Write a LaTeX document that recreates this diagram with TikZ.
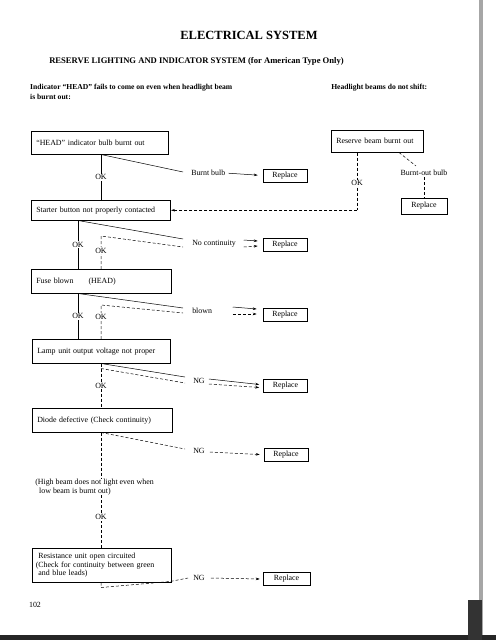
\documentclass[tikz,border=0pt]{standalone}
\usepackage{fontspec}
\setmainfont{Liberation Serif}
\usetikzlibrary{arrows.meta,positioning,calc}
\tikzset{
  fault/.style={draw, line width=0.5pt, anchor=north west, inner xsep=5pt, inner ysep=0pt,
    text width=#1, align=left, font=\fontsize{7.9}{8.4}\selectfont},
  fixbox/.style={draw, line width=0.5pt, minimum width=44pt, minimum height=13pt, inner sep=0pt,
    font=\fontsize{7.9}{9}\selectfont},
  tag/.style={fill=white, inner sep=0.8pt, font=\fontsize{7.9}{9}\selectfont},
  cue/.style={inner sep=0pt, anchor=west, font=\fontsize{7.9}{9}\selectfont},
  dashln/.style={dash pattern=on 3pt off 2pt},
  tip/.style={-{Stealth[length=4pt,width=2.6pt]}}
}
\begin{document}
\begin{tikzpicture}[x=1pt, y=-1pt, line width=0.5pt]
\useasboundingbox (0,0) rectangle (496,640);
% scan edges
\fill[gray!70] (479,0) rectangle (482.5,640);
\fill[black!85] (0,635) rectangle (496,640);
\fill[black!80] (468,600) rectangle (482,640);

% ---------- headings ----------
\node (title) at (249,35) {\fontsize{12.5}{14}\selectfont\bfseries ELECTRICAL SYSTEM};
\node[anchor=west, inner sep=0pt, font=\fontsize{8.6}{10}\selectfont\bfseries] (sub) at (49,61)
  {RESERVE LIGHTING AND INDICATOR SYSTEM (for American Type Only)};
\node[anchor=north west, inner sep=0pt, align=left, font=\fontsize{7.6}{10}\selectfont\bfseries] (leftcase) at (30,84)
  {Indicator ``HEAD'' fails to come on even when headlight beam\\ is burnt out:};
\node[anchor=north west, inner sep=0pt, font=\fontsize{7.6}{10}\selectfont\bfseries] (rightcase) at (331,84)
  {Headlight beams do not shift:};

% ---------- fault boxes ----------
\node[fault=126.5pt, minimum height=23pt] (head)  at (31,131) {``HEAD'' indicator bulb burnt out};
\node[fault=128.5pt, minimum height=20pt] (start) at (31,200) {Starter button not properly contacted};
\node[fault=129.5pt, minimum height=24pt] (fuse)  at (31,269) {Fuse blown\hspace{15pt}(HEAD)};
\node[fault=127.5pt, minimum height=24pt] (lamp)  at (32,339) {Lamp unit output voltage not proper};
\node[fault=129.5pt, minimum height=24pt] (diode) at (32,408) {Diode defective (Check continuity)};
\node[fault=131.5pt, minimum height=34pt, inner xsep=3.5pt] (resist) at (32,548)
  {\ Resistance unit open circuited\\(Check for continuity between green\\ \ and blue leads)};
\node[fault=81.5pt, minimum height=22pt] (reserve) at (331,130) {Reserve beam burnt out};
\node[anchor=north west, inner sep=0pt, align=left, font=\fontsize{7.9}{8.4}\selectfont] (highbeam) at (35,479)
  {(High beam does not light even when\\ \ \ low beam is burnt out)};

% ---------- replace boxes ----------
\node[fixbox] (r1) at (285,175.5) {Replace};
\node[fixbox] (r2) at (285,245) {Replace};
\node[fixbox] (r3) at (285,315) {Replace};
\node[fixbox] (r4) at (285.5,385.5) {Replace};
\node[fixbox] (r5) at (286,454.5) {Replace};
\node[fixbox, minimum width=47pt] (r6) at (286.5,579) {Replace};
\node[fixbox, minimum width=46pt, minimum height=16pt] (r7) at (424,206) {Replace};

% ---------- cues ----------
\node[cue] (bb) at (191,173) {Burnt bulb};
\node[cue] (nc) at (192,244) {No continuity};
\node[cue] (bl) at (192,311) {blown};
\node[cue] (ng1) at (193,381) {NG};
\node[cue] (ng2) at (193,451) {NG};
\node[cue] (ng3) at (193,578) {NG};
\node[inner sep=0pt, font=\fontsize{7.9}{9}\selectfont] (bob) at (424,173) {Burnt-out bulb};

\coordinate (sol) at (78,0);
\coordinate (das) at (101,0);
\coordinate (rsv) at (357,0);

% ---------- left chart ----------
\draw (head.south -| das) -- node[tag]{OK} (start.north -| das);
\draw (head.south -| das) -- ([xshift=-8pt,yshift=1pt]bb.west);
\draw[tip, shorten <=3pt, shorten >=5pt] (bb.east) -- (r1.west);

\draw (start.south -| sol) -- node[tag]{OK} (fuse.north -| sol);
\draw (start.south -| sol) -- ([xshift=-9pt,yshift=5pt]nc.west);
\draw[dashln] (fuse.north -| das) -- node[tag, pos=0.55]{OK} ++(0,-33) -- ([xshift=-9pt,yshift=-3pt]nc.west);
\draw[tip] ([xshift=-19pt,yshift=5pt]r2.west) -- ([xshift=-5pt,yshift=4pt]r2.west);
\draw[tip, dashln] ([xshift=-19pt,yshift=-2pt]r2.west) -- ([xshift=-5pt,yshift=-1pt]r2.west);

\draw (fuse.south -| sol) -- node[tag]{OK} (lamp.north -| sol);
\draw (fuse.south -| sol) -- ([xshift=-9pt,yshift=3pt]bl.west);
\draw[dashln] (lamp.north -| das) -- node[tag, pos=0.65]{OK} ++(0,-34) -- ([xshift=-9pt,yshift=-2pt]bl.west);
\draw[tip] ([xshift=-30pt,yshift=8pt]r3.west) -- ([xshift=-6pt,yshift=6pt]r3.west);
\draw[tip, dashln] ([xshift=-30pt,yshift=1pt]r3.west) -- ([xshift=-6pt,yshift=1pt]r3.west);

\draw[dashln] (lamp.south -| das) -- node[tag]{OK} (diode.north -| das);
\draw (lamp.south -| das) -- ([xshift=-8pt,yshift=4pt]ng1.west);
\draw[dashln] ([yshift=-5pt]lamp.south -| das) -- ([xshift=-8pt,yshift=-2pt]ng1.west);
\draw[tip] ([xshift=4pt,yshift=2pt]ng1.east) -- ([xshift=-4pt,yshift=1pt]r4.west);
\draw[tip, dashln] ([xshift=4pt,yshift=-3pt]ng1.east) -- ([xshift=-4pt,yshift=-2pt]r4.west);

\draw[dashln] (diode.south -| das) -- (highbeam.north -| das);
\draw[dashln] (diode.south -| das) -- ([xshift=-8pt,yshift=2pt]ng2.west);
\draw[tip, dashln] ([xshift=5pt,yshift=-1pt]ng2.east) -- ([xshift=-4pt]r5.west);
\draw[dashln] (highbeam.south -| das) -- node[tag, pos=0.42]{OK} (resist.north -| das);

\draw[dashln] (resist.south -| das) -- ++(0,5) -- ([xshift=-1pt,yshift=1pt]resist.south east) -- ([xshift=-5pt]ng3.west);
\draw[tip, dashln] ([xshift=6pt]ng3.east) -- ([xshift=-3pt]r6.west);

% ---------- right chart ----------
\draw[dashln] (reserve.south -| rsv) -- node[tag, pos=0.53]{OK} (rsv |- start.east);
\draw[tip, dashln] (rsv |- start.east) -- ([xshift=1pt]start.east);
\draw[dashln] ([xshift=-24pt]reserve.south east) -- ([xshift=-8pt,yshift=4pt]bob.north);
\draw[dashln] ([yshift=-1pt]bob.south) -- (r7.north);

% ---------- page ----------
\node[inner sep=0pt, font=\fontsize{7.9}{9}\selectfont] (page) at (35,605) {102};
\end{tikzpicture}
\end{document}
